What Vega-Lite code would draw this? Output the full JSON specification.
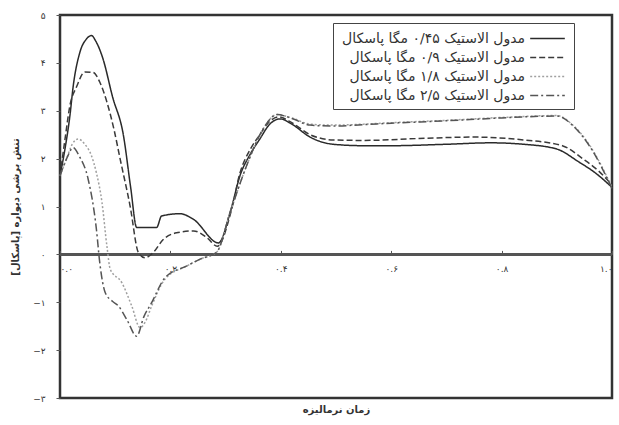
{
  "$schema": "https://vega.github.io/schema/vega-lite/v6.json",
  "width": 552,
  "height": 383,
  "autosize": "none",
  "padding": {"left": 60, "top": 15, "right": 7, "bottom": 27},
  "background": "white",
  "config": {
    "view": {"stroke": "#333", "strokeWidth": 2.5},
    "font": "DejaVu Sans",
    "axis": {"grid": false, "labelFont": "DejaVu Sans", "titleFont": "DejaVu Sans", "labelColor": "#333", "titleColor": "#333", "labelFontSize": 9, "titleFontSize": 10, "titleFontWeight": "bold"},
    "legend": {"labelFont": "DejaVu Sans", "labelFontSize": 14, "labelColor": "#333", "labelLimit": 400}
  },
  "data": {"values": [
    {"t": 0, "v": 1.64, "s": "a"}, {"t": 0.009, "v": 2.2, "s": "a"}, {"t": 0.018, "v": 2.9, "s": "a"}, {"t": 0.024, "v": 3.52, "s": "a"}, {"t": 0.036, "v": 4.22, "s": "a"}, {"t": 0.048, "v": 4.5, "s": "a"}, {"t": 0.057, "v": 4.57, "s": "a"}, {"t": 0.065, "v": 4.45, "s": "a"}, {"t": 0.078, "v": 4.08, "s": "a"}, {"t": 0.095, "v": 3.3, "s": "a"}, {"t": 0.115, "v": 2.48, "s": "a"}, {"t": 0.128, "v": 1.4, "s": "a"}, {"t": 0.139, "v": 0.56, "s": "a"}, {"t": 0.175, "v": 0.56, "s": "a"}, {"t": 0.184, "v": 0.8, "s": "a"}, {"t": 0.217, "v": 0.85, "s": "a"}, {"t": 0.242, "v": 0.73, "s": "a"}, {"t": 0.287, "v": 0.24, "s": "a"}, {"t": 0.31, "v": 0.95, "s": "a"}, {"t": 0.326, "v": 1.64, "s": "a"}, {"t": 0.345, "v": 2.1, "s": "a"}, {"t": 0.362, "v": 2.41, "s": "a"}, {"t": 0.38, "v": 2.72, "s": "a"}, {"t": 0.399, "v": 2.83, "s": "a"}, {"t": 0.42, "v": 2.72, "s": "a"}, {"t": 0.453, "v": 2.45, "s": "a"}, {"t": 0.495, "v": 2.3, "s": "a"}, {"t": 0.55, "v": 2.27, "s": "a"}, {"t": 0.6, "v": 2.27, "s": "a"}, {"t": 0.7, "v": 2.3, "s": "a"}, {"t": 0.78, "v": 2.33, "s": "a"}, {"t": 0.84, "v": 2.3, "s": "a"}, {"t": 0.9, "v": 2.2, "s": "a"}, {"t": 0.94, "v": 1.93, "s": "a"}, {"t": 0.97, "v": 1.7, "s": "a"}, {"t": 1.0, "v": 1.4, "s": "a"},

    {"t": 0, "v": 1.64, "s": "b"}, {"t": 0.009, "v": 2.4, "s": "b"}, {"t": 0.018, "v": 3.11, "s": "b"}, {"t": 0.03, "v": 3.5, "s": "b"}, {"t": 0.045, "v": 3.81, "s": "b"}, {"t": 0.06, "v": 3.8, "s": "b"}, {"t": 0.072, "v": 3.6, "s": "b"}, {"t": 0.085, "v": 3.18, "s": "b"}, {"t": 0.098, "v": 2.6, "s": "b"}, {"t": 0.109, "v": 1.99, "s": "b"}, {"t": 0.127, "v": 1.01, "s": "b"}, {"t": 0.142, "v": 0.04, "s": "b"}, {"t": 0.154, "v": -0.07, "s": "b"}, {"t": 0.169, "v": 0.04, "s": "b"}, {"t": 0.187, "v": 0.31, "s": "b"}, {"t": 0.211, "v": 0.45, "s": "b"}, {"t": 0.242, "v": 0.49, "s": "b"}, {"t": 0.266, "v": 0.35, "s": "b"}, {"t": 0.285, "v": 0.17, "s": "b"}, {"t": 0.31, "v": 0.9, "s": "b"}, {"t": 0.326, "v": 1.7, "s": "b"}, {"t": 0.345, "v": 2.2, "s": "b"}, {"t": 0.362, "v": 2.5, "s": "b"}, {"t": 0.38, "v": 2.78, "s": "b"}, {"t": 0.396, "v": 2.87, "s": "b"}, {"t": 0.42, "v": 2.75, "s": "b"}, {"t": 0.453, "v": 2.5, "s": "b"}, {"t": 0.495, "v": 2.39, "s": "b"}, {"t": 0.55, "v": 2.38, "s": "b"}, {"t": 0.65, "v": 2.42, "s": "b"}, {"t": 0.75, "v": 2.45, "s": "b"}, {"t": 0.84, "v": 2.39, "s": "b"}, {"t": 0.91, "v": 2.27, "s": "b"}, {"t": 0.948, "v": 1.99, "s": "b"}, {"t": 0.975, "v": 1.75, "s": "b"}, {"t": 1.0, "v": 1.45, "s": "b"},

    {"t": 0, "v": 1.64, "s": "c"}, {"t": 0.012, "v": 2.0, "s": "c"}, {"t": 0.022, "v": 2.3, "s": "c"}, {"t": 0.033, "v": 2.41, "s": "c"}, {"t": 0.045, "v": 2.3, "s": "c"}, {"t": 0.057, "v": 2.06, "s": "c"}, {"t": 0.066, "v": 1.7, "s": "c"}, {"t": 0.076, "v": 1.09, "s": "c"}, {"t": 0.085, "v": 0.17, "s": "c"}, {"t": 0.091, "v": -0.31, "s": "c"}, {"t": 0.112, "v": -0.59, "s": "c"}, {"t": 0.13, "v": -1.08, "s": "c"}, {"t": 0.145, "v": -1.53, "s": "c"}, {"t": 0.155, "v": -1.4, "s": "c"}, {"t": 0.166, "v": -1.08, "s": "c"}, {"t": 0.19, "v": -0.52, "s": "c"}, {"t": 0.23, "v": -0.24, "s": "c"}, {"t": 0.254, "v": -0.1, "s": "c"}, {"t": 0.284, "v": 0.05, "s": "c"}, {"t": 0.308, "v": 0.87, "s": "c"}, {"t": 0.338, "v": 1.85, "s": "c"}, {"t": 0.368, "v": 2.62, "s": "c"}, {"t": 0.393, "v": 2.92, "s": "c"}, {"t": 0.42, "v": 2.85, "s": "c"}, {"t": 0.453, "v": 2.72, "s": "c"}, {"t": 0.495, "v": 2.7, "s": "c"}, {"t": 0.55, "v": 2.72, "s": "c"}, {"t": 0.6, "v": 2.75, "s": "c"}, {"t": 0.7, "v": 2.8, "s": "c"}, {"t": 0.8, "v": 2.86, "s": "c"}, {"t": 0.9, "v": 2.9, "s": "c"}, {"t": 0.93, "v": 2.69, "s": "c"}, {"t": 0.96, "v": 2.27, "s": "c"}, {"t": 1.0, "v": 1.4, "s": "c"},

    {"t": 0, "v": 1.64, "s": "d"}, {"t": 0.012, "v": 2.0, "s": "d"}, {"t": 0.024, "v": 2.23, "s": "d"}, {"t": 0.035, "v": 2.05, "s": "d"}, {"t": 0.051, "v": 1.57, "s": "d"}, {"t": 0.066, "v": 0.52, "s": "d"}, {"t": 0.072, "v": -0.17, "s": "d"}, {"t": 0.082, "v": -0.8, "s": "d"}, {"t": 0.095, "v": -0.98, "s": "d"}, {"t": 0.106, "v": -1.08, "s": "d"}, {"t": 0.121, "v": -1.36, "s": "d"}, {"t": 0.139, "v": -1.71, "s": "d"}, {"t": 0.152, "v": -1.3, "s": "d"}, {"t": 0.166, "v": -1.01, "s": "d"}, {"t": 0.19, "v": -0.49, "s": "d"}, {"t": 0.23, "v": -0.24, "s": "d"}, {"t": 0.254, "v": -0.1, "s": "d"}, {"t": 0.284, "v": 0.05, "s": "d"}, {"t": 0.308, "v": 0.87, "s": "d"}, {"t": 0.338, "v": 1.85, "s": "d"}, {"t": 0.368, "v": 2.62, "s": "d"}, {"t": 0.393, "v": 2.92, "s": "d"}, {"t": 0.42, "v": 2.84, "s": "d"}, {"t": 0.453, "v": 2.7, "s": "d"}, {"t": 0.495, "v": 2.68, "s": "d"}, {"t": 0.55, "v": 2.71, "s": "d"}, {"t": 0.6, "v": 2.74, "s": "d"}, {"t": 0.7, "v": 2.79, "s": "d"}, {"t": 0.8, "v": 2.85, "s": "d"}, {"t": 0.9, "v": 2.89, "s": "d"}, {"t": 0.93, "v": 2.68, "s": "d"}, {"t": 0.96, "v": 2.25, "s": "d"}, {"t": 1.0, "v": 1.38, "s": "d"}
  ]},
  "layer": [
    {
      "mark": {"type": "rule", "color": "#555", "strokeWidth": 1.5},
      "encoding": {"y": {"datum": 0}}
    },
    {
      "mark": {"type": "line", "interpolate": "monotone", "strokeWidth": 1.5},
      "encoding": {
        "x": {"field": "t", "type": "quantitative", "scale": {"domain": [0, 1], "nice": false},
          "axis": {"title": "زمان نرمالیزه", "values": [0, 0.2, 0.4, 0.6, 0.8, 1.0], "format": ".1f", "offset": -143.6, "domain": false, "tickSize": -4, "tickColor": "#555", "labelPadding": 14, "titlePadding": 131,
            "labelExpr": "replace(replace(replace(replace(replace(replace(datum.label,regexp('0','g'),'۰'),regexp('1','g'),'۱'),regexp('2','g'),'۲'),regexp('4','g'),'۴'),regexp('6','g'),'۶'),regexp('8','g'),'۸')"}},
        "y": {"field": "v", "type": "quantitative", "scale": {"domain": [-3, 5], "nice": false},
          "axis": {"title": "تنش برشی دیواره [پاسکال]", "values": [-3, -2, -1, 0, 1, 2, 3, 4, 5], "format": "d", "domain": false, "tickSize": 4, "tickColor": "#555", "labelPadding": 11, "titlePadding": 12,
            "labelExpr": "replace(replace(replace(replace(replace(replace(datum.label,regexp('0','g'),'۰'),regexp('1','g'),'۱'),regexp('2','g'),'۲'),regexp('3','g'),'۳'),regexp('4','g'),'۴'),regexp('5','g'),'۵')"}},
        "color": {"field": "s", "type": "nominal",
          "scale": {"domain": ["a", "b", "c", "d"], "range": ["#2a2a2a", "#3a3a3a", "#a0a0a0", "#555555"]},
          "legend": {"title": null, "orient": "none", "legendX": 273, "legendY": 8, "strokeColor": "#444", "fillColor": "white", "padding": 6, "symbolType": "M-2,0H2", "symbolSize": 300, "symbolStrokeWidth": 1.5, "symbolOffset": 199, "labelAlign": "right", "labelOffset": -32, "rowPadding": 2,
            "labelExpr": "datum.value == 'a' ? 'مدول الاستیک ۰/۴۵ مگا پاسکال' : datum.value == 'b' ? 'مدول الاستیک ۰/۹ مگا پاسکال' : datum.value == 'c' ? 'مدول الاستیک ۱/۸ مگا پاسکال' : 'مدول الاستیک ۲/۵ مگا پاسکال'"}},
        "strokeDash": {"field": "s", "type": "nominal",
          "scale": {"domain": ["a", "b", "c", "d"], "range": [[1, 0], [6, 3], [2, 2], [8, 3, 2, 3]]},
          "legend": {"title": null, "orient": "none", "legendX": 273, "legendY": 8, "strokeColor": "#444", "fillColor": "white", "padding": 6, "symbolType": "M-2,0H2", "symbolSize": 300, "symbolStrokeWidth": 1.5, "symbolOffset": 199, "labelAlign": "right", "labelOffset": -32, "rowPadding": 2,
            "labelExpr": "datum.value == 'a' ? 'مدول الاستیک ۰/۴۵ مگا پاسکال' : datum.value == 'b' ? 'مدول الاستیک ۰/۹ مگا پاسکال' : datum.value == 'c' ? 'مدول الاستیک ۱/۸ مگا پاسکال' : 'مدول الاستیک ۲/۵ مگا پاسکال'"}}
      }
    }
  ]
}
